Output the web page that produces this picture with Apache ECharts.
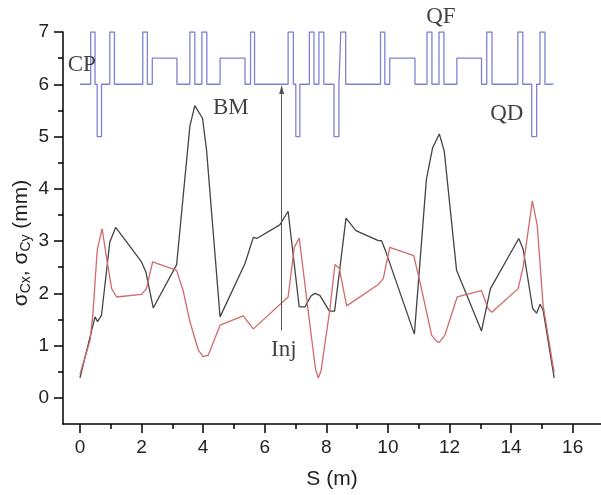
<!DOCTYPE html>
<html><head><meta charset="utf-8">
<script src="https://cdn.jsdelivr.net/npm/echarts@6/dist/echarts.min.js"></script>
<style>html,body{margin:0;padding:0;background:#fff}#c{width:601px;height:495px}</style>
</head><body><div id="c"></div>
<script>
// sigma_Cx (black) : [s (m), mm]
const sigmaCx = [[0,0.38],[0.49,1.55],[0.57,1.46],[0.70,1.58],[0.97,2.98],[1.16,3.26],[2.0,2.6],[2.14,2.41],[2.38,1.72],[3.14,2.55],[3.57,5.2],[3.73,5.59],[3.98,5.35],[4.11,4.75],[4.55,1.55],[5.36,2.57],[5.63,3.07],[5.74,3.05],[6.49,3.31],[6.76,3.57],[7.12,1.74],[7.31,1.74],[7.50,1.95],[7.63,2.0],[7.79,1.96],[8.10,1.66],[8.27,1.66],[8.64,3.44],[8.96,3.2],[9.69,3.01],[9.79,3.01],[9.90,2.85],[10.86,1.22],[11.25,4.18],[11.45,4.78],[11.67,5.05],[11.83,4.72],[12.23,2.44],[13.04,1.28],[13.33,2.09],[14.25,3.05],[14.39,2.85],[14.70,1.71],[14.83,1.62],[14.94,1.79],[15.04,1.68],[15.40,0.38]];
// sigma_Cy (red)
const sigmaCy = [[0,0.45],[0.33,1.1],[0.42,1.6],[0.56,2.82],[0.72,3.24],[0.87,2.66],[1.03,2.09],[1.19,1.93],[2.0,1.98],[2.16,2.09],[2.36,2.6],[3.14,2.44],[3.36,2.03],[3.57,1.46],[3.84,0.92],[4.0,0.79],[4.17,0.82],[4.55,1.39],[5.30,1.57],[5.63,1.32],[6.76,1.93],[6.96,2.88],[7.12,3.06],[7.47,1.39],[7.65,0.55],[7.74,0.38],[7.83,0.52],[8.12,1.71],[8.28,2.55],[8.42,2.48],[8.66,1.76],[9.69,2.17],[9.85,2.28],[10.06,2.88],[10.84,2.72],[11.09,2.09],[11.42,1.20],[11.58,1.08],[11.67,1.06],[11.85,1.20],[12.25,1.93],[13.04,2.05],[13.26,1.70],[13.37,1.64],[14.23,2.09],[14.39,2.50],[14.69,3.77],[14.85,3.30],[15.04,1.77],[15.40,0.48]];
// lattice elements: start, end (m), level
const elemStart = [0.35,0.56,0.97,2.04,2.35,3.57,3.96,4.55,5.54,6.76,7.01,7.45,7.76,8.25,8.47,9.76,10.06,11.27,11.66,12.24,13.21,14.22,14.67,14.94];
const elemEnd   = [0.49,0.70,1.12,2.19,3.15,3.73,4.12,5.36,5.67,6.93,7.14,7.60,7.92,8.41,8.63,9.90,10.88,11.43,11.82,13.04,13.38,14.38,14.83,15.10];
const elemLevel = [7,5,7,7,6.5,7,7,6.5,7,7,5,7,7,5,7,7,6.5,7,7,6.5,7,7,5,7];
const latticeBase = 6, latticeEnd = 15.37;
const injS = 6.55, injFrom = 1.29, injTo = 5.9;
const annotText = ['CP','BM','QF','QD','Inj'];
const annotS = [0.06,4.9,11.72,13.86,6.62];
const annotY = [6.37,5.55,7.28,5.44,0.91];
const xMajor = [0,2,4,6,8,10,12,14,16];
const xMinor = [1,3,5,7,9,11,13,15];
const yMajor = [0,1,2,3,4,5,6,7];
const yMinor = [0.5,1.5,2.5,3.5,4.5,5.5,6.5];

const lattice = [[0, latticeBase]];
for (let i = 0; i < elemStart.length; i++) {
  lattice.push([elemStart[i], latticeBase], [elemStart[i], elemLevel[i]], [elemEnd[i], elemLevel[i]], [elemEnd[i], latticeBase]);
}
lattice.push([latticeEnd, latticeBase]);

const chart = echarts.init(document.getElementById('c'), null, {renderer: 'canvas'});
const XMIN = -0.55, XMAX = 16.92, YMIN = -0.5, YMAX = 7;
const sans = 'Liberation Sans', serif = 'Liberation Serif';
chart.setOption({
  animation: false,
  backgroundColor: '#fff',
  grid: {left: 63, right: 0, top: 32, bottom: 69},
  xAxis: [{
    type: 'value', min: XMIN, max: XMAX,
    axisLine: {show: true, onZero: false, lineStyle: {color: '#000', width: 1.5}},
    axisTick: {show: true, customValues: xMajor, length: 9, lineStyle: {color: '#000', width: 1.5}},
    axisLabel: {customValues: xMajor, margin: 14, fontFamily: sans, fontSize: 19, color: '#222'},
    splitLine: {show: false},
    name: 'S (m)', nameLocation: 'middle', nameGap: 45,
    nameTextStyle: {fontFamily: sans, fontSize: 21, color: '#222'}
  }, {
    type: 'value', min: XMIN, max: XMAX, position: 'bottom',
    axisLine: {show: false, onZero: false},
    axisTick: {show: true, customValues: xMinor, length: 5, lineStyle: {color: '#000', width: 1.5}},
    axisLabel: {show: false}, splitLine: {show: false}
  }],
  yAxis: [{
    type: 'value', min: YMIN, max: YMAX,
    axisLine: {show: true, onZero: false, lineStyle: {color: '#000', width: 1.5}},
    axisTick: {show: true, customValues: yMajor, length: 9, lineStyle: {color: '#000', width: 1.5}},
    axisLabel: {customValues: yMajor, margin: 14, fontFamily: sans, fontSize: 19, color: '#222'},
    splitLine: {show: false}
  }, {
    type: 'value', min: YMIN, max: YMAX, position: 'left',
    axisLine: {show: false, onZero: false},
    axisTick: {show: true, customValues: yMinor, length: 5, lineStyle: {color: '#000', width: 1.5}},
    axisLabel: {show: false}, splitLine: {show: false}
  }],
  graphic: [{
    type: 'text', x: 21, y: 243, rotation: Math.PI / 2,
    style: {
      text: '{m|σ}{s|Cx}{m|, σ}{s|Cy}{m| (mm)}',
      align: 'center', verticalAlign: 'middle',
      rich: {
        m: {fontFamily: sans, fontSize: 21, lineHeight: 24, fill: '#222'},
        s: {fontFamily: sans, fontSize: 14, lineHeight: 14, verticalAlign: 'bottom', fill: '#222'}
      }
    }
  }],
  series: [{
    type: 'line', data: lattice, showSymbol: false, symbol: 'none',
    lineStyle: {color: '#7f82d2', width: 1.3}, z: 2
  }, {
    type: 'line', data: sigmaCx, showSymbol: false, symbol: 'none',
    lineStyle: {color: '#444', width: 1.3}, z: 3
  }, {
    type: 'line', data: sigmaCy, showSymbol: false, symbol: 'none',
    lineStyle: {color: '#d06a6a', width: 1.3}, z: 3,
    markLine: {
      silent: true, symbol: ['none', 'triangle'], symbolSize: [5, 9],
      label: {show: false},
      lineStyle: {color: '#555', width: 1, type: 'solid'},
      data: [[{coord: [injS, injFrom]}, {coord: [injS, injTo]}]]
    }
  }, {
    type: 'scatter', clip: false, symbolSize: 1,
    itemStyle: {color: 'transparent'},
    data: annotText.map((t, i) => ({value: [annotS[i], annotY[i]], name: t})),
    label: {show: true, position: 'inside', formatter: p => p.name,
      fontFamily: serif, fontSize: 23, color: '#111'},
    z: 5
  }]
});
</script></body></html>
